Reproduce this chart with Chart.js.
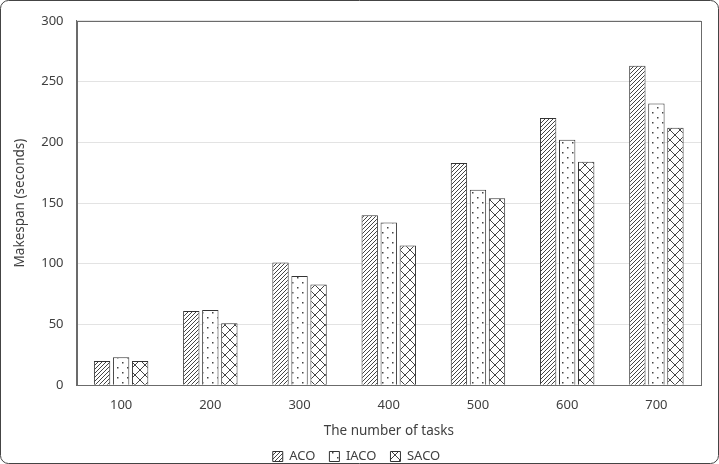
<!DOCTYPE html>
<html>
<head>
<meta charset="utf-8">
<script src="https://cdn.jsdelivr.net/npm/chart.js@4"></script>
<style>
  html, body { margin: 0; padding: 0; background: #fff; }
  #wrap { width: 719px; height: 464px; position: relative; }
</style>
</head>
<body>
<div id="wrap"><canvas id="makespanBar" width="719" height="464"></canvas></div>
<script>
const taskCounts = ["100", "200", "300", "400", "500", "600", "700"];
const acoValues = [20, 61, 101, 140, 183, 220, 263];
const iacoValues = [23, 62, 90, 134, 161, 202, 232];
const sacoValues = [20, 51, 83, 115, 154, 184, 212];
const yTicks = [0, 50, 100, 150, 200, 250, 300];

function makePattern(kind) {
  const c = document.createElement("canvas");
  const s = kind === "dots" ? 10 : kind === "cross" ? 10 : 4;
  c.width = s;
  c.height = s;
  const g = c.getContext("2d");
  g.fillStyle = "#fff";
  g.fillRect(0, 0, s, s);
  g.strokeStyle = "#444";
  g.fillStyle = "#444";
  g.lineWidth = 1;
  if (kind === "diag") {
    g.beginPath();
    for (let k = -s; k <= s * 2; k += s) {
      g.moveTo(k, s);
      g.lineTo(k + s, 0);
    }
    g.stroke();
  } else if (kind === "dots") {
    g.fillRect(2, 2, 1.5, 1.5);
    g.fillRect(7, 7, 1.5, 1.5);
  } else if (kind === "cross") {
    g.beginPath();
    g.moveTo(0, 0);
    g.lineTo(s, s);
    g.moveTo(s, 0);
    g.lineTo(0, s);
    g.stroke();
  }
  return g.createPattern(c, "repeat");
}

const frameBox = {
  id: "frameBox",
  afterDraw(chart) {
    const { ctx, chartArea } = chart;
    ctx.save();
    ctx.strokeStyle = "#6b6b6b";
    ctx.lineWidth = 1;
    ctx.strokeRect(
      Math.round(chartArea.left) + 0.5,
      Math.round(chartArea.top) + 0.5,
      Math.round(chartArea.right - chartArea.left),
      Math.round(chartArea.bottom - chartArea.top)
    );
    ctx.strokeStyle = "#444";
    ctx.beginPath();
    ctx.roundRect(0.5, 0.5, chart.width - 1, chart.height - 1, 8);
    ctx.stroke();
    ctx.restore();
  },
};

const ctx = document.getElementById("makespanBar").getContext("2d");
const barBorder = "#333";

const makespanChart = new Chart(ctx, {
  type: "bar",
  data: {
    labels: taskCounts,
    datasets: [
      {
        label: "ACO",
        data: acoValues,
        backgroundColor: makePattern("diag"),
        borderColor: barBorder,
        borderWidth: 1,
      },
      {
        label: "IACO",
        data: iacoValues,
        backgroundColor: makePattern("dots"),
        borderColor: barBorder,
        borderWidth: 1,
      },
      {
        label: "SACO",
        data: sacoValues,
        backgroundColor: makePattern("cross"),
        borderColor: barBorder,
        borderWidth: 1,
      },
    ],
  },
  options: {
    responsive: false,
    animation: false,
    devicePixelRatio: 1,
    layout: { padding: { top: 18, right: 18, left: 12, bottom: -9 } },
    datasets: {
      bar: { categoryPercentage: 0.64, barPercentage: 0.86 },
    },
    scales: {
      x: {
        grid: { display: false, drawTicks: false },
        border: { color: "#6b6b6b" },
        ticks: { color: "#404040", font: { family: "Noto Sans", size: 13 }, padding: 12 },
        title: {
          display: true,
          text: "The number of tasks",
          color: "#404040",
          font: { family: "Noto Sans", size: 13.5 },
          padding: { top: -2, bottom: -3 },
        },
      },
      y: {
        min: 0,
        max: 300,
        afterBuildTicks: (axis) => {
          axis.ticks = yTicks.map((v) => ({ value: v }));
        },
        grid: { color: "#e3e3e3", drawTicks: false },
        border: { color: "#6b6b6b" },
        ticks: { color: "#404040", font: { family: "Noto Sans", size: 13 }, padding: 13 },
        title: {
          display: true,
          text: "Makespan (seconds)",
          color: "#404040",
          font: { family: "Noto Sans", size: 13.5 },
          padding: { top: 0, bottom: 0 },
        },
      },
    },
    plugins: {
      legend: {
        display: true,
        position: "bottom",
        labels: {
          color: "#404040",
          font: { family: "Noto Sans", size: 13 },
          boxWidth: 10,
          boxHeight: 10,
          padding: 14,
        },
      },
      tooltip: { enabled: false },
    },
  },
  plugins: [frameBox],
});
</script>
</body>
</html>
